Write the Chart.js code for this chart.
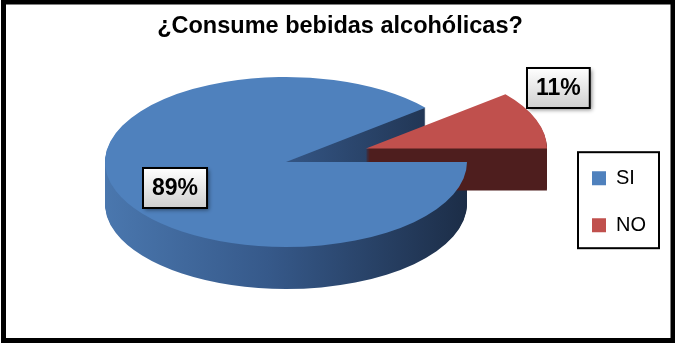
<!DOCTYPE html>
<html>
<head>
<meta charset="utf-8">
<script src="https://cdn.jsdelivr.net/npm/chart.js@4/dist/chart.umd.min.js"></script>
<style>
  html, body { margin: 0; padding: 0; background: #fff; }
  canvas { display: block; }
</style>
</head>
<body>
<canvas id="pieChart" width="675" height="343"></canvas>
<script>
const titleText = '¿Consume bebidas alcohólicas?';
const labels = ['SI', 'NO'];
const percents = [89, 11];
const topColors = ['#4f81bd', '#c0504d'];

// 3d look: where the pie sits, how flat it is and how thick
const PIE_X = 286, PIE_Y = 162, TILT = 0.47, DEPTH = 42, RADIUS = 181;
const EXPLODE = [0, 85];
const FONT = "'Liberation Sans', Arial, sans-serif";

function sideFill(ctx, i, arc) {
    if (i === 0) {
        const g = ctx.createLinearGradient(arc.x - RADIUS, 0, arc.x + RADIUS, 0);
        g.addColorStop(0, '#4a77ae');
        g.addColorStop(0.45, '#36598a');
        g.addColorStop(1, '#1c2d47');
        return g;
    }
    return '#4f1e1e';
}

function placeArc(ctx, arc, i, drop) {
    const mid = (arc.startAngle + arc.endAngle) / 2;
    ctx.translate(PIE_X, PIE_Y + drop);
    ctx.scale(1, TILT);
    ctx.translate(EXPLODE[i] * Math.cos(mid) - arc.x, EXPLODE[i] * Math.sin(mid) - arc.y);
}

function drawTag(ctx, text, x, y) {
    ctx.save();
    ctx.font = 'bold 23px ' + FONT;
    const w = ctx.measureText(text).width + 18, h = 40;
    const left = Math.round(x - w / 2), top = Math.round(y - h / 2);
    const g = ctx.createLinearGradient(0, top, 0, top + h);
    g.addColorStop(0, '#ffffff');
    g.addColorStop(1, '#cfcfcf');
    ctx.shadowColor = 'rgba(0,0,0,0.45)';
    ctx.shadowBlur = 4;
    ctx.shadowOffsetX = 2;
    ctx.shadowOffsetY = 2;
    ctx.fillStyle = g;
    ctx.fillRect(left, top, w, h);
    ctx.shadowColor = 'transparent';
    ctx.lineWidth = 2;
    ctx.strokeStyle = '#000';
    ctx.strokeRect(left, top, w, h);
    ctx.fillStyle = '#000';
    ctx.textAlign = 'center';
    ctx.textBaseline = 'middle';
    ctx.fillText(text, left + w / 2, top + h / 2 + 1);
    ctx.restore();
}

const LABEL_AT = [0.66, 1.13];
const LABEL_SHIFT = [[1, 7], [0, -28]];

const pie3d = {
    id: 'pie3d',
    beforeDatasetsDraw(chart) {
        const ctx = chart.ctx;
        const arcs = chart.getDatasetMeta(0).data;
        // sides first, stacked downwards, then the tops
        arcs.forEach((arc, i) => {
            const saved = arc.options;
            for (let d = DEPTH; d > 0; d--) {
                ctx.save();
                placeArc(ctx, arc, i, d);
                arc.options = Object.assign({}, saved, { backgroundColor: sideFill(ctx, i, arc) });
                arc.draw(ctx);
                ctx.restore();
            }
            arc.options = saved;
        });
        arcs.forEach((arc, i) => {
            ctx.save();
            placeArc(ctx, arc, i, 0);
            arc.draw(ctx);
            ctx.restore();
        });
        return false;
    },
    afterDraw(chart) {
        const ctx = chart.ctx;
        // percentage tags
        chart.getDatasetMeta(0).data.forEach((arc, i) => {
            const mid = (arc.startAngle + arc.endAngle) / 2;
            const r = EXPLODE[i] + RADIUS * LABEL_AT[i];
            const x = PIE_X + r * Math.cos(mid) + LABEL_SHIFT[i][0];
            const y = PIE_Y + r * Math.sin(mid) * TILT + LABEL_SHIFT[i][1];
            drawTag(ctx, percents[i] + '%', x, y);
        });
        const hb = chart.legend.legendHitBoxes;
        ctx.save();
        // legend frame
        ctx.lineWidth = 2;
        ctx.strokeStyle = '#000';
        const fx = hb[0].left - 14, fy = hb[0].top - 16;
        const last = hb[hb.length - 1];
        ctx.strokeRect(fx, fy, 81, last.top + last.height + 13 - fy);
        // outer frame
        ctx.lineWidth = 5;
        ctx.strokeRect(3.5, 2, 669.5, 338.5);
        ctx.restore();
    }
};

new Chart(document.getElementById('pieChart'), {
    type: 'pie',
    data: {
        labels: labels,
        datasets: [{
            data: percents,
            backgroundColor: topColors,
            borderWidth: 0
        }]
    },
    options: {
        responsive: false,
        devicePixelRatio: 1,
        animation: false,
        events: [],
        rotation: 90,
        radius: RADIUS,
        layout: { padding: { left: 24, right: 19, top: 0, bottom: 0 } },
        plugins: {
            title: {
                display: true,
                text: titleText,
                color: '#000',
                font: { family: FONT, size: 23.5, weight: 'bold' },
                padding: { top: 12, bottom: 101 }
            },
            legend: {
                position: 'right',
                align: 'start',
                fullSize: false,
                labels: {
                    color: '#000',
                    font: { family: FONT, size: 20 },
                    boxWidth: 14,
                    boxHeight: 14,
                    padding: 27
                }
            },
            tooltip: { enabled: false }
        }
    },
    plugins: [pie3d]
});
</script>
</body>
</html>
